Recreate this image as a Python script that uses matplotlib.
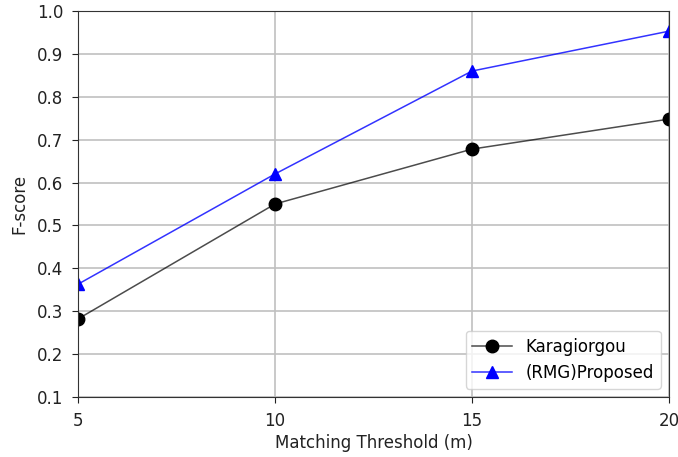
import matplotlib
matplotlib.use("Agg")
import matplotlib.pyplot as plt

thresholds = [5, 10, 15, 20]
karagiorgou = [0.282, 0.550, 0.678, 0.748]
proposed = [0.363, 0.620, 0.860, 0.953]
yticks = [0.1, 0.2, 0.3, 0.4, 0.5, 0.6, 0.7, 0.8, 0.9, 1.0]

plt.rcParams['font.family'] = ['DejaVu Sans']
plt.rcParams['font.size'] = 12

fig = plt.figure(figsize=(6.78, 4.57), dpi=100)
ax = fig.add_axes([78/678, 1 - 397/457, (669-78)/678, (397-11)/457])

ax.plot(thresholds, karagiorgou, color=(0, 0, 0, 0.7), lw=1.1, marker='o',
        markersize=9, markerfacecolor='black', markeredgecolor='black', label='Karagiorgou')
ax.plot(thresholds, proposed, color=(0, 0, 1, 0.8), lw=1.1, marker='^',
        markersize=9, markerfacecolor='blue', markeredgecolor='blue', label='(RMG)Proposed')

ax.set_xlim(5, 20)
ax.set_ylim(0.1, 1.0)
ax.set_xticks([5, 10, 15, 20])
ax.set_yticks(yticks)
ax.tick_params(labelsize=12, colors='#222222', length=4.5, pad=6)
ax.grid(True, color='#c0c0c0', lw=1.2)
ax.set_axisbelow(True)
ax.set_xlabel('Matching Threshold (m)', fontsize=12, color='#222222', labelpad=3)
ax.set_ylabel('F-score', fontsize=12, color='#222222', labelpad=6)
for s in ax.spines.values():
    s.set_color('#333333')
ax.legend(loc='lower right', fontsize=12, borderpad=0.4, handlelength=2.4)

fig.savefig('out.png', dpi=100)
